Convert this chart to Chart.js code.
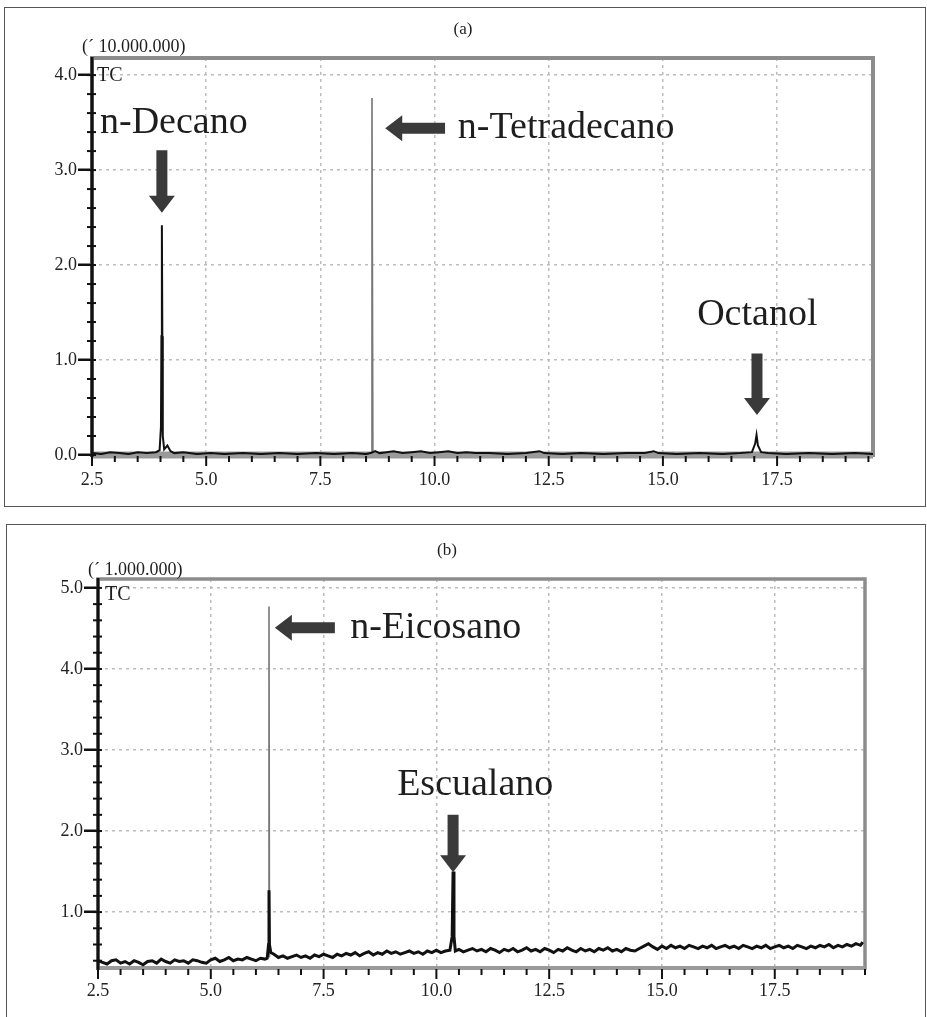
<!DOCTYPE html>
<html><head><meta charset="utf-8">
<script src="https://cdn.jsdelivr.net/npm/chart.js@4.4.1/dist/chart.umd.min.js"></script>
<style>
html,body{margin:0;padding:0;background:#fff;width:927px;height:1017px;overflow:hidden;position:relative;}
.panel{position:absolute;border:1.5px solid #555;box-sizing:border-box;}
canvas{position:absolute;}
</style></head><body>
<div class="panel" style="left:4px;top:7px;width:922px;height:500px"></div>
<div class="panel" style="left:6px;top:524px;width:920px;height:520px"></div>
<canvas id="ca" width="927" height="512" style="left:0;top:0"></canvas>
<canvas id="cb" width="927" height="502" style="left:0;top:515px"></canvas>
<script>
// ---------- DATA ----------
const xTicks = [2.5, 5, 7.5, 10, 12.5, 15, 17.5];
const xTickLabels = ['2.5', '5.0', '7.5', '10.0', '12.5', '15.0', '17.5'];
const aYTicks = [0, 1, 2, 3, 4];
const aYTickLabels = ['0.0', '1.0', '2.0', '3.0', '4.0'];
const bYTicks = [1, 2, 3, 4, 5];
const bYTickLabels = ['1.0', '2.0', '3.0', '4.0', '5.0'];

// Panel (a): retention time (min) and intensity (x 10.000.000)
const aTime = [2.5, 2.7, 2.9, 3.1, 3.3, 3.5, 3.7, 3.9, 3.98, 4.01,
  4.02, 4.03, 4.04, 4.05, 4.08, 4.15, 4.22, 4.3, 4.5, 4.8,
  5.1, 5.4, 5.8, 6.2, 6.6, 7.0, 7.4, 7.8, 8.2, 8.5,
  8.6, 8.7, 8.8, 8.95, 9.1, 9.3, 9.5, 9.7, 9.9, 10.1,
  10.3, 10.5, 10.7, 10.9, 11.2, 11.6, 12.0, 12.3, 12.4, 12.8,
  13.2, 13.7, 14.2, 14.6, 14.8, 14.9, 15.3, 15.8, 16.3, 16.7,
  16.95, 17.02, 17.05, 17.08, 17.15, 17.3, 17.7, 18.2, 18.7, 19.2,
  19.6];
const aSignal = [0.02, 0.01, 0.03, 0.02, 0.01, 0.03, 0.02, 0.03, 0.05, 0.30,
  1.25, 2.42, 1.25, 0.20, 0.06, 0.10, 0.04, 0.02, 0.03, 0.01,
  0.02, 0.01, 0.02, 0.01, 0.02, 0.01, 0.02, 0.01, 0.02, 0.01,
  0.02, 0.04, 0.02, 0.03, 0.04, 0.02, 0.03, 0.04, 0.02, 0.03,
  0.04, 0.02, 0.03, 0.02, 0.02, 0.01, 0.02, 0.04, 0.02, 0.01,
  0.02, 0.01, 0.02, 0.02, 0.04, 0.02, 0.01, 0.02, 0.01, 0.02,
  0.03, 0.12, 0.21, 0.10, 0.03, 0.02, 0.01, 0.02, 0.01, 0.02,
  0.01];
const aPeakTime = [8.61, 8.63, 8.65];      // n-Tetradecano
const aPeakSignal = [0.02, 3.76, 0.02];

// Panel (b): intensity (x 1.000.000)
const bTime = [
  2.5, 2.6, 2.7, 2.8, 2.9, 3.0, 3.1, 3.2, 3.3, 3.4,
  3.5, 3.6, 3.7, 3.8, 3.9, 4.0, 4.1, 4.2, 4.3, 4.4,
  4.5, 4.6, 4.7, 4.8, 4.9, 5.0, 5.1, 5.2, 5.3, 5.4,
  5.5, 5.6, 5.7, 5.8, 5.9, 6.0, 6.1, 6.2,
  6.25, 6.28, 6.29, 6.30, 6.33,
  6.4, 6.5, 6.6, 6.7, 6.8, 6.9, 7.0, 7.1, 7.2, 7.3,
  7.4, 7.5, 7.6, 7.7, 7.8, 7.9, 8.0, 8.1, 8.2, 8.3,
  8.4, 8.5, 8.6, 8.7, 8.8, 8.9, 9.0, 9.1, 9.2, 9.3,
  9.4, 9.5, 9.6, 9.7, 9.8, 9.9, 10.0, 10.1, 10.2, 10.3,
  10.35, 10.37, 10.39, 10.42,
  10.5, 10.6, 10.7, 10.8, 10.9, 11.0, 11.1, 11.2, 11.3, 11.4,
  11.5, 11.6, 11.7, 11.8, 11.9, 12.0, 12.1, 12.2, 12.3, 12.4,
  12.5, 12.6, 12.7, 12.8, 12.9, 13.0, 13.1, 13.2, 13.3, 13.4,
  13.5, 13.6, 13.7, 13.8, 13.9, 14.0, 14.1, 14.2, 14.3, 14.4,
  14.5, 14.6, 14.7, 14.8, 14.9, 15.0, 15.1, 15.2, 15.3, 15.4,
  15.5, 15.6, 15.7, 15.8, 15.9, 16.0, 16.1, 16.2, 16.3, 16.4,
  16.5, 16.6, 16.7, 16.8, 16.9, 17.0, 17.1, 17.2, 17.3, 17.4,
  17.5, 17.6, 17.7, 17.8, 17.9, 18.0, 18.1, 18.2, 18.3, 18.4,
  18.5, 18.6, 18.7, 18.8, 18.9, 19.0, 19.1, 19.2, 19.3, 19.4,
  19.45];
const bSignal = [
  0.40, 0.38, 0.36, 0.40, 0.41, 0.37, 0.39, 0.36, 0.40, 0.38,
  0.35, 0.39, 0.40, 0.37, 0.42, 0.39, 0.37, 0.41, 0.39, 0.40,
  0.37, 0.41, 0.40, 0.38, 0.37, 0.41, 0.43, 0.39, 0.41, 0.44,
  0.40, 0.42, 0.41, 0.44, 0.42, 0.40, 0.43, 0.42,
  0.43, 0.60, 1.27, 0.60, 0.50,
  0.48, 0.44, 0.46, 0.43, 0.45, 0.47, 0.44, 0.46, 0.43, 0.47,
  0.45, 0.48, 0.46, 0.44, 0.48, 0.46, 0.49, 0.47, 0.50, 0.46,
  0.49, 0.51, 0.47, 0.50, 0.48, 0.52, 0.49, 0.51, 0.48, 0.50,
  0.52, 0.49, 0.51, 0.48, 0.52, 0.50, 0.53, 0.50, 0.52, 0.53,
  0.70, 1.50, 0.70, 0.52,
  0.54, 0.51, 0.53, 0.55, 0.52, 0.54, 0.51, 0.55, 0.53, 0.50,
  0.54, 0.52, 0.55, 0.51, 0.53, 0.56, 0.52, 0.54, 0.51, 0.55,
  0.53, 0.50, 0.54, 0.52, 0.56, 0.53, 0.51, 0.55, 0.52, 0.54,
  0.51, 0.55, 0.53, 0.56, 0.52, 0.54, 0.51, 0.55, 0.53, 0.52,
  0.55, 0.58, 0.61, 0.57, 0.54, 0.58, 0.55, 0.59, 0.56, 0.58,
  0.55, 0.59, 0.57, 0.55, 0.58, 0.56, 0.59, 0.55, 0.57, 0.59,
  0.56, 0.58, 0.55, 0.59, 0.57, 0.55, 0.58, 0.56, 0.59, 0.55,
  0.57, 0.59, 0.56, 0.58, 0.55, 0.59, 0.57, 0.55, 0.58, 0.56,
  0.59, 0.57, 0.60, 0.56, 0.59, 0.57, 0.60, 0.58, 0.61, 0.59,
  0.63];
const bPeakTime = [6.28, 6.29, 6.30];      // n-Eicosano
const bPeakSignal = [0.45, 4.77, 0.45];

// ---------- RENDERING ----------
const SERIF = '"Liberation Serif", "Times New Roman", serif';
const pts = (xs, ys) => xs.map((x, i) => ({x: x, y: ys[i]}));

function arrow(ctx, x1, y1, x2, y2, sw, hw, hl) {
  const dx = x2 - x1, dy = y2 - y1, L = Math.hypot(dx, dy);
  const ux = dx / L, uy = dy / L, nx = -uy, ny = ux;
  const bx = x2 - ux * hl, by = y2 - uy * hl;
  ctx.beginPath();
  ctx.moveTo(x1 + nx * sw / 2, y1 + ny * sw / 2);
  ctx.lineTo(bx + nx * sw / 2, by + ny * sw / 2);
  ctx.lineTo(bx + nx * hw / 2, by + ny * hw / 2);
  ctx.lineTo(x2, y2);
  ctx.lineTo(bx - nx * hw / 2, by - ny * hw / 2);
  ctx.lineTo(bx - nx * sw / 2, by - ny * sw / 2);
  ctx.lineTo(x1 - nx * sw / 2, y1 - ny * sw / 2);
  ctx.closePath();
  ctx.fill();
}

const deco = {
  id: 'deco',
  beforeDatasetsDraw(chart, args, o) {
    const {ctx, chartArea: a} = chart;
    ctx.save();
    ctx.strokeStyle = o.frameColor; ctx.lineWidth = o.frameWidth;
    ctx.strokeRect(a.left, a.top, a.right - a.left, a.bottom - a.top);
    ctx.fillStyle = o.bandColor;
    ctx.fillRect(a.left, a.bottom - o.bandHalf, a.right - a.left, o.bandHalf * 2);
    ctx.restore();
  },
  afterDatasetsDraw(chart, args, o) {
    const {ctx, chartArea: a, scales: {x, y}} = chart;
    ctx.save();
    ctx.strokeStyle = '#111'; ctx.lineWidth = 3;
    ctx.beginPath(); ctx.moveTo(a.left, a.top - 1); ctx.lineTo(a.left, a.bottom + 2); ctx.stroke();
    ctx.lineWidth = 2;
    for (let v = Math.ceil(y.min * 5) / 5; v <= y.max + 1e-9; v += 0.2) {
      const py = y.getPixelForValue(v);
      ctx.beginPath(); ctx.moveTo(a.left - 5, py); ctx.lineTo(a.left + 4, py); ctx.stroke();
    }
    for (let v = 2.5; v <= x.max + 1e-9; v += 0.5) {
      const px = x.getPixelForValue(v);
      const major = Math.abs(v / 2.5 - Math.round(v / 2.5)) < 1e-6;
      ctx.beginPath(); ctx.moveTo(px, a.bottom + 1); ctx.lineTo(px, a.bottom + (major ? 11 : 7)); ctx.stroke();
    }
    ctx.fillStyle = '#1e1e1e'; ctx.textBaseline = 'middle';
    ctx.font = '17px ' + SERIF; ctx.textAlign = 'center';
    ctx.fillText(o.title, o.titleX, a.top + o.titleDY);
    ctx.textAlign = 'left';
    ctx.font = '18px ' + SERIF;
    ctx.fillText(o.unit, a.left + o.unitDX, a.top + o.unitDY);
    ctx.font = '20px ' + SERIF;
    ctx.fillText('TC', a.left + o.tcDX, a.top + o.tcDY);
    ctx.font = '38px ' + SERIF;
    o.notes.forEach(n => ctx.fillText(n.text, x.getPixelForValue(n.x), y.getPixelForValue(n.y)));
    ctx.fillStyle = '#3a3a3a';
    o.arrows.forEach(r => arrow(ctx, x.getPixelForValue(r.x1), y.getPixelForValue(r.y1),
      x.getPixelForValue(r.x2), y.getPixelForValue(r.y2), 11, 26, 17));
    ctx.restore();
  }
};

function makeChart(id, p) {
  return new Chart(document.getElementById(id), {
    type: 'line',
    data: {datasets: [
      {data: pts(p.time, p.signal), borderColor: '#111', borderWidth: p.lineW},
      {data: pts(p.peakTime, p.peakSignal), borderColor: '#777', borderWidth: 1.6}
    ]},
    plugins: [deco],
    options: {
      responsive: false, animation: false, devicePixelRatio: 1,
      layout: {padding: {left: 0, top: p.padTop, right: p.padRight, bottom: 0}},
      elements: {point: {radius: 0}, line: {tension: 0}},
      plugins: {legend: {display: false}, tooltip: {enabled: false}, deco: p.deco},
      scales: {
        x: {
          type: 'linear', min: 2.5, max: p.xMax,
          afterBuildTicks: s => { s.ticks = xTicks.map(v => ({value: v})); },
          afterFit: s => { s.height = p.xH; },
          ticks: {callback: (v, i) => xTickLabels[i], font: {family: SERIF, size: 18}, color: '#222',
                  padding: p.xPad, maxRotation: 0, autoSkip: false},
          grid: {color: '#bdbdbd', lineWidth: 1.5, drawTicks: false},
          border: {display: false, dash: [3, 4]}
        },
        y: {
          type: 'linear', min: p.yMin, max: p.yMax,
          afterBuildTicks: s => { s.ticks = p.yTicks.map(v => ({value: v})); },
          afterFit: s => { s.width = p.yW; },
          ticks: {callback: (v, i) => p.yLabels[i], font: {family: SERIF, size: 18}, color: '#222', padding: 1},
          grid: {color: '#bdbdbd', lineWidth: 1.5, drawTicks: true, tickLength: 14, tickColor: '#111', tickWidth: 2.5},
          border: {display: false, dash: [3, 4]}
        }
      }
    }
  });
}

makeChart('ca', {
  time: aTime, signal: aSignal, peakTime: aPeakTime, peakSignal: aPeakSignal, lineW: 2,
  padTop: 58, padRight: 54, xMax: 19.6, xH: 57, xPad: 14, yMin: 0, yMax: 4.18, yW: 92,
  yTicks: aYTicks, yLabels: aYTickLabels,
  deco: {
    frameColor: '#8c8c8c', frameWidth: 4, bandColor: '#9a9a9a', bandHalf: 3.5,
    title: '(a)', titleX: 463, titleDY: -28, unit: '(\u00B4 10.000.000)', unitDX: -10, unitDY: -11,
    tcDX: 5, tcDY: 18,
    notes: [
      {text: 'n-Decano', x: 2.675, y: 3.5},
      {text: 'n-Tetradecano', x: 10.51, y: 3.44},
      {text: 'Octanol', x: 15.75, y: 1.47}
    ],
    arrows: [
      {x1: 4.03, y1: 3.21, x2: 4.03, y2: 2.55},
      {x1: 10.23, y1: 3.44, x2: 8.92, y2: 3.44},
      {x1: 17.06, y1: 1.07, x2: 17.06, y2: 0.42}
    ]
  }
});

makeChart('cb', {
  time: bTime, signal: bSignal, peakTime: bPeakTime, peakSignal: bPeakSignal, lineW: 3,
  padTop: 64, padRight: 62, xMax: 19.5, xH: 49, xPad: 12, yMin: 0.31, yMax: 5.11, yW: 98,
  yTicks: bYTicks, yLabels: bYTickLabels,
  deco: {
    frameColor: '#8c8c8c', frameWidth: 3.5, bandColor: '#9a9a9a', bandHalf: 2,
    title: '(b)', titleX: 447, titleDY: -28, unit: '(\u00B4 1.000.000)', unitDX: -10, unitDY: -9,
    tcDX: 7, tcDY: 16,
    notes: [
      {text: 'n-Eicosano', x: 8.09, y: 4.51},
      {text: 'Escualano', x: 9.13, y: 2.57}
    ],
    arrows: [
      {x1: 7.75, y1: 4.51, x2: 6.42, y2: 4.51},
      {x1: 10.37, y1: 2.20, x2: 10.37, y2: 1.49}
    ]
  }
});
</script>
</body></html>
